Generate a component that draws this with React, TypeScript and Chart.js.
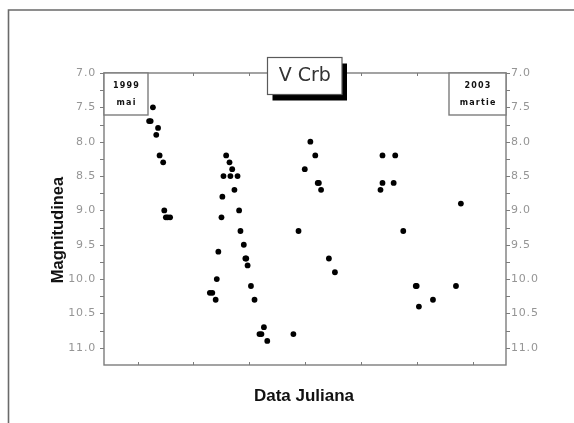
import React, { useEffect, useRef } from 'react';
import { Chart, registerables } from 'chart.js';

Chart.register(...registerables);

// Observation dates (Julian Date) and visual magnitudes of V CrB
const julianDates = [
  2451302, 2451309, 2451319, 2451334, 2451342, 2451349, 2451365, 2451370, 2451377, 2451385, 2451396,
  2451574, 2451585, 2451600, 2451605, 2451612, 2451626, 2451630, 2451635, 2451647, 2451662, 2451666,
  2451674, 2451684, 2451698, 2451705, 2451711, 2451726, 2451733, 2451737, 2451743, 2451758, 2451774,
  2451796, 2451805, 2451816, 2451831,
  2451948, 2451971, 2451999, 2452024, 2452046, 2452057, 2452062, 2452072, 2452107, 2452134,
  2452338, 2452347, 2452347, 2452397, 2452404, 2452440, 2452496, 2452500, 2452510, 2452573, 2452676, 2452698,
];
const magnitudes = [
  7.7, 7.7, 7.5, 7.9, 7.8, 8.2, 8.3, 9.0, 9.1, 9.1, 9.1,
  10.2, 10.2, 10.3, 10.0, 9.6, 9.1, 8.8, 8.5, 8.2, 8.3, 8.5,
  8.4, 8.7, 8.5, 9.0, 9.3, 9.5, 9.7, 9.7, 9.8, 10.1, 10.3,
  10.8, 10.8, 10.7, 10.9,
  10.8, 9.3, 8.4, 8.0, 8.2, 8.6, 8.6, 8.7, 9.7, 9.9,
  8.7, 8.6, 8.2, 8.6, 8.2, 9.3, 10.1, 10.1, 10.4, 10.3, 10.1, 8.9,
];

const xTickLabels = [2451500, 2452000, 2452500];
const xMinorTicks = [2451250, 2451500, 2451750, 2452000, 2452250, 2452500, 2452750];
const yTickLabels = ['7.0', '7.5', '8.0', '8.5', '9.0', '9.5', '10.0', '10.5', '11.0'];
const yMinorTicks = [7, 7.25, 7.5, 7.75, 8, 8.25, 8.5, 8.75, 9, 9.25, 9.5, 9.75, 10, 10.25, 10.5, 10.75, 11];
const xRange = [2451100, 2452900];
const yRange = [7, 11.25];

const starName = 'V Crb';
const xAxisTitle = 'Data Juliana';
const yAxisTitle = 'Magnitudinea';
const startNote = ['1999', 'mai'];
const endNote = ['2003', 'martie'];

const W = 574;
const H = 423;

const decorPlugin = {
  id: 'decor',
  beforeDraw(chart: any) {
    const ctx = chart.ctx as CanvasRenderingContext2D;
    ctx.save();
    ctx.fillStyle = '#ffffff';
    ctx.fillRect(0, 0, chart.width, chart.height);
    ctx.strokeStyle = '#6a6a6a';
    ctx.lineWidth = 1.6;
    ctx.beginPath();
    ctx.moveTo(8.5, chart.height + 2);
    ctx.lineTo(8.5, 10);
    ctx.lineTo(chart.width + 2, 10);
    ctx.stroke();
    ctx.restore();
    (ctx as any).letterSpacing = '0.8px';
  },
  beforeDatasetsDraw(chart: any) {
    const ctx = chart.ctx as CanvasRenderingContext2D;
    (ctx as any).letterSpacing = '0px';
    const { left, right, top, bottom } = chart.chartArea;
    const xs = chart.scales.x;
    const ys = chart.scales.y;
    ctx.save();
    ctx.strokeStyle = '#7c7c7c';
    ctx.lineWidth = 1.4;
    ctx.strokeRect(left, top, right - left, bottom - top);
    ctx.lineWidth = 1;
    ctx.beginPath();
    xMinorTicks.forEach((v) => {
      const px = Math.round(xs.getPixelForValue(v)) + 0.5;
      ctx.moveTo(px, bottom);
      ctx.lineTo(px, bottom - 3);
      ctx.moveTo(px, top);
      ctx.lineTo(px, top + 3);
    });
    yMinorTicks.forEach((v) => {
      const py = Math.round(ys.getPixelForValue(v)) + 0.5;
      ctx.moveTo(left, py);
      ctx.lineTo(left - 4, py);
      ctx.moveTo(right, py);
      ctx.lineTo(right + 4, py);
    });
    ctx.stroke();
    ctx.restore();
  },
  afterDraw(chart: any) {
    const ctx = chart.ctx as CanvasRenderingContext2D;
    const { left, right, top } = chart.chartArea;
    ctx.save();
    (ctx as any).letterSpacing = '0px';

    // corner notes
    const drawNote = (x: number, w: number, lines: string[]) => {
      ctx.fillStyle = '#ffffff';
      ctx.fillRect(x, top, w, 42);
      ctx.strokeStyle = '#7c7c7c';
      ctx.lineWidth = 1.4;
      ctx.strokeRect(x, top, w, 42);
      ctx.fillStyle = '#111111';
      ctx.font = 'bold 8px "DejaVu Sans"';
      ctx.textAlign = 'center';
      ctx.textBaseline = 'middle';
      (ctx as any).letterSpacing = '1.2px';
      ctx.fillText(lines[0], x + w / 2 + 0.6, top + 13);
      ctx.fillText(lines[1], x + w / 2 + 0.6, top + 30);
      (ctx as any).letterSpacing = '0px';
    };
    drawNote(left, 44, startNote);
    drawNote(right - 57, 57, endNote);

    // title box with shadow
    const bx = 267.5, by = 57.5, bw = 74.5, bh = 37;
    ctx.fillStyle = '#000000';
    ctx.fillRect(bx + 5, by + 6, bw, bh);
    ctx.fillStyle = '#ffffff';
    ctx.fillRect(bx, by, bw, bh);
    ctx.strokeStyle = '#5a5a5a';
    ctx.lineWidth = 1.2;
    ctx.strokeRect(bx, by, bw, bh);
    ctx.fillStyle = '#333333';
    ctx.font = '19px "DejaVu Sans"';
    ctx.textAlign = 'center';
    ctx.textBaseline = 'middle';
    ctx.fillText(starName, bx + bw / 2, by + 19);

    // axis titles
    ctx.fillStyle = '#111111';
    ctx.font = 'bold 17px "Liberation Sans"';
    ctx.fillText(xAxisTitle, 304, 396);
    ctx.save();
    ctx.translate(58.5, 230);
    ctx.rotate(-Math.PI / 2);
    ctx.font = 'bold 16.5px "Liberation Sans"';
    ctx.fillText(yAxisTitle, 0, 0);
    ctx.restore();
    ctx.restore();
  },
};

export default function App() {
  const canvasRef = useRef<HTMLCanvasElement | null>(null);

  useEffect(() => {
    const canvas = canvasRef.current;
    if (!canvas) return;
    const tickFont = { family: '"DejaVu Sans"', size: 11 };
    const tickColor = '#959595';
    const yLabel = (v: any) => {
      const n = Number(v);
      const idx = yTickLabels.findIndex((t) => Math.abs(parseFloat(t) - n) < 1e-6);
      return idx >= 0 ? yTickLabels[idx] : '';
    };
    const chart = new Chart(canvas, {
      type: 'scatter',
      data: {
        datasets: [
          {
            data: julianDates.map((x, i) => ({ x, y: magnitudes[i] })),
            backgroundColor: '#000000',
            borderColor: '#000000',
            borderWidth: 0,
            pointRadius: 2.9,
            pointHoverRadius: 2.9,
            yAxisID: 'y',
          },
        ],
      },
      options: {
        animation: false,
        responsive: false,
        devicePixelRatio: 1,
        events: [],
        layout: { padding: { top: 73, left: 0, right: 0, bottom: 0 } },
        plugins: { legend: { display: false }, tooltip: { enabled: false }, title: { display: false } },
        scales: {
          x: {
            type: 'linear',
            position: 'bottom',
            min: xRange[0],
            max: xRange[1],
            grid: { display: false, drawTicks: false },
            border: { display: false },
            ticks: {
              stepSize: 250,
              autoSkip: false,
              maxRotation: 0,
              padding: 5,
              font: tickFont,
              color: tickColor,
              callback: (v: any) => (xTickLabels.includes(Number(v)) ? String(v) : ''),
            },
            afterFit: (s: any) => {
              s.height = 58;
            },
          },
          y: {
            type: 'linear',
            position: 'left',
            reverse: true,
            min: yRange[0],
            max: yRange[1],
            grid: { display: false, drawTicks: false },
            border: { display: false },
            ticks: { stepSize: 0.5, autoSkip: false, padding: 8, font: tickFont, color: tickColor, callback: yLabel },
            afterFit: (s: any) => {
              s.width = 104;
            },
          },
          y2: {
            type: 'linear',
            position: 'right',
            reverse: true,
            min: yRange[0],
            max: yRange[1],
            grid: { display: false, drawTicks: false },
            border: { display: false },
            ticks: { stepSize: 0.5, autoSkip: false, padding: 5, font: tickFont, color: tickColor, callback: yLabel },
            afterFit: (s: any) => {
              s.width = 68;
            },
          },
        },
      } as any,
      plugins: [decorPlugin],
    });
    return () => chart.destroy();
  }, []);

  return (
    <div style={{ position: 'fixed', left: 0, top: 0, width: W, height: H, background: '#fff' }}>
      <canvas ref={canvasRef} width={W} height={H} style={{ display: 'block', width: W, height: H }} />
    </div>
  );
}
